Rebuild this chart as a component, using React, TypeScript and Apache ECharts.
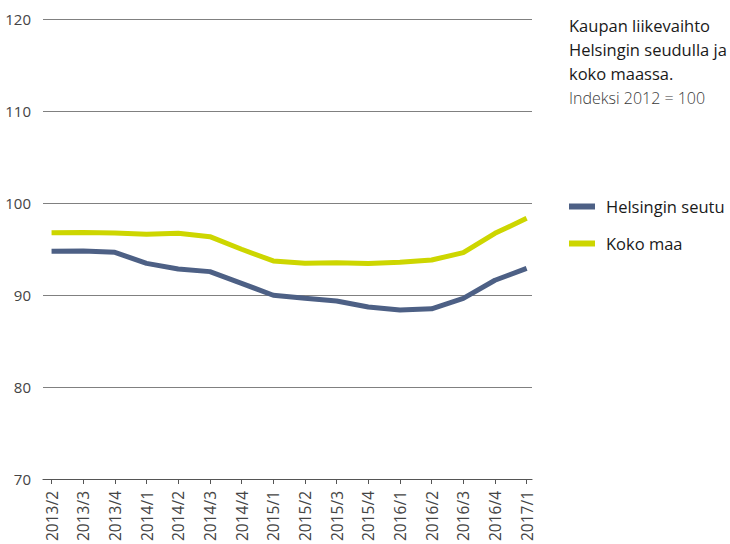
import React, { useEffect, useRef } from "react";
import * as echarts from "echarts";

const categories = [
  "2013/2", "2013/3", "2013/4", "2014/1", "2014/2", "2014/3", "2014/4", "2015/1",
  "2015/2", "2015/3", "2015/4", "2016/1", "2016/2", "2016/3", "2016/4", "2017/1",
];
const helsinki = [94.75, 94.78, 94.64, 93.44, 92.83, 92.54, 91.27, 89.97, 89.64, 89.35, 88.7, 88.37, 88.5, 89.64, 91.6, 92.9];
const kokoMaa = [96.77, 96.8, 96.74, 96.6, 96.72, 96.34, 94.97, 93.7, 93.44, 93.5, 93.42, 93.55, 93.8, 94.6, 96.7, 98.33];
const seriesNames = ["Helsingin seutu", "Koko maa"];
const titleLines = ["Kaupan liikevaihto", "Helsingin seudulla ja", "koko maassa."];
const subtitle = "Indeksi 2012 = 100";

const FONT = "'Open Sans', 'Noto Sans', sans-serif";

export default function App() {
  const ref = useRef<HTMLDivElement>(null);
  useEffect(() => {
    if (!ref.current) return;
    const chart = echarts.init(ref.current, undefined, { renderer: "svg" });
    const idx = categories.map((_, i) => i);
    chart.setOption({
      animation: false,
      textStyle: { fontFamily: FONT },
      grid: { left: 43, right: 198, top: 19, bottom: 65, containLabel: false, outerBoundsMode: "none" },
      xAxis: {
        type: "value",
        min: -0.27,
        max: 15.17,
        splitLine: { show: false },
        axisLine: { show: true, lineStyle: { color: "#555", width: 1.2 } },
        axisTick: { show: true, length: 5, customValues: idx, lineStyle: { color: "#555" } },
        axisLabel: {
          customValues: idx,
          rotate: 90,
          margin: 12,
          fontSize: 15.5,
          color: "#444",
          fontFamily: FONT,
          formatter: (v: number) => categories[Math.round(v)] ?? "",
        },
      },
      yAxis: {
        type: "value",
        min: 70,
        max: 120,
        interval: 10,
        axisLine: { show: false },
        axisTick: { show: false },
        axisLabel: { fontSize: 15, color: "#444", margin: 12, fontFamily: FONT },
        splitLine: { lineStyle: { color: "#808080", width: 1 } },
      },
      legend: {
        orient: "vertical",
        left: 564,
        top: 193,
        icon: "rect",
        itemWidth: 26,
        itemHeight: 6,
        itemGap: 20,
        textStyle: { fontSize: 16.5, color: "#1a1a1a", fontFamily: FONT, padding: [0, 0, 0, 6] },
        data: seriesNames,
      },
      graphic: [
        ...titleLines.map((t, i) => ({
          type: "text",
          left: 569,
          top: 17 + i * 24,
          style: { text: t, fontSize: 16.5, fontWeight: 500, fill: "#1a1a1a", fontFamily: FONT },
        })),
        {
          type: "text",
          left: 569,
          top: 90,
          style: { text: subtitle, fontSize: 16, fontWeight: 300, fill: "#3a3a3a", fontFamily: FONT },
        },
      ],
      series: [
        {
          name: seriesNames[0],
          type: "line",
          data: helsinki.map((v, i) => [i, v]),
          showSymbol: false,
          lineStyle: { color: "#4d6085", width: 5 },
          itemStyle: { color: "#4d6085" },
        },
        {
          name: seriesNames[1],
          type: "line",
          data: kokoMaa.map((v, i) => [i, v]),
          showSymbol: false,
          lineStyle: { color: "#cdd600", width: 5 },
          itemStyle: { color: "#cdd600" },
        },
      ],
    });
    return () => chart.dispose();
  }, []);
  return (
    <div
      ref={ref}
      style={{ position: "fixed", left: 0, top: 0, width: 730, height: 544, background: "#fff" }}
    />
  );
}
